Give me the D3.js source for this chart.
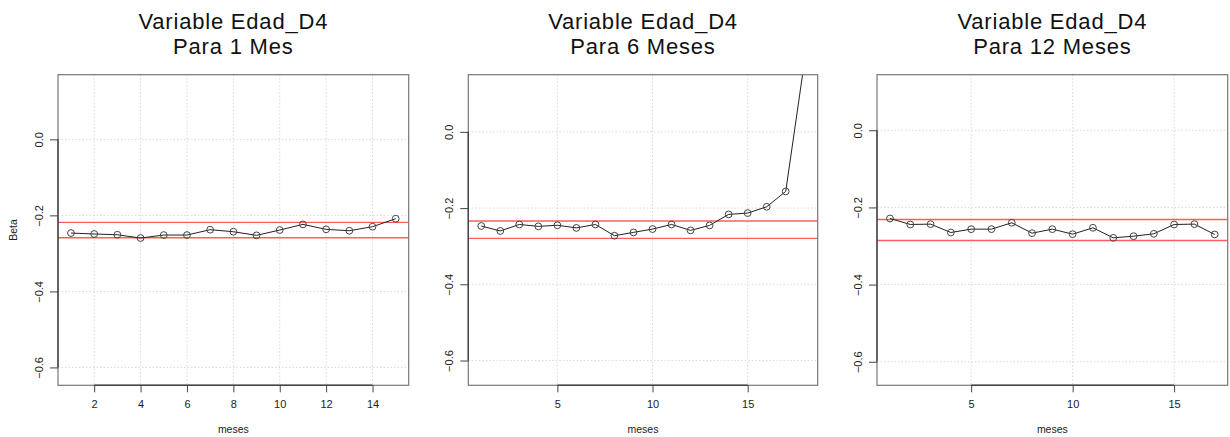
<!DOCTYPE html>
<html lang="en">
<head>
<meta charset="UTF-8">
<title>Variable Edad_D4</title>
<script src="https://d3js.org/d3.v7.min.js"></script>
<style>
  html, body { margin:0; padding:0; background:#fff; overflow:hidden; }
  svg { font-family: "Liberation Sans", Arial, sans-serif; }
  .grid line { stroke:#d9d9d9; stroke-dasharray:1.5,2; stroke-width:1; }
  .tick-lab { font-size:11px; fill:#222; }
</style>
</head>
<body>
<div id="chart"></div>
<script>
// values
const titles = ["Para 1 Mes", "Para 6 Meses", "Para 12 Meses"];
const beta1 = [-0.2465,-0.249,-0.251,-0.2596,-0.2518,-0.2518,-0.2377,-0.243,-0.2526,-0.2386,-0.2237,-0.2368,-0.2404,-0.2298,-0.2088];
const beta6 = [-0.247,-0.260,-0.243,-0.248,-0.245,-0.252,-0.243,-0.2725,-0.2638,-0.255,-0.243,-0.2585,-0.2454,-0.2166,-0.2131,-0.1965,-0.1563,0.19];
const beta12 = [-0.2286,-0.2442,-0.2433,-0.265,-0.2563,-0.2563,-0.2398,-0.2667,-0.2563,-0.2693,-0.2528,-0.2788,-0.2745,-0.2684,-0.2442,-0.2433,-0.2701];
const redLines1 = [-0.2184, -0.2588];
const redLines6 = [-0.234, -0.2795];
const redLines12 = [-0.2312, -0.2857];
const xTicks1 = [2,4,6,8,10,12,14];
const xTicks6 = [5,10,15];
const xTicks12 = [5,10,15];
const yTicks = [-0.6,-0.4,-0.2,0.0];

const W = 1230, H = 437;
const svg = d3.select("#chart").append("svg").attr("width", W).attr("height", H);

const panels = [
  {vals:beta1, red:redLines1, xt:xTicks1, yDom:[-0.647,0.17], box:[58,74.7,408.7,385.3], ylab:true},
  {vals:beta6, red:redLines6, xt:xTicks6, yDom:[-0.665,0.15], box:[468.3,74.7,817.7,385.3], ylab:false},
  {vals:beta12, red:redLines12, xt:xTicks12, yDom:[-0.661,0.144], box:[877,74.7,1227.7,385.3], ylab:false}
];

panels.forEach((p, i) => {
  const [x0, y0, x1, y1] = p.box;
  const n = p.vals.length;
  const ext = (n - 1) * 0.04;
  const x = d3.scaleLinear().domain([1 - ext, n + ext]).range([x0, x1]);
  const y = d3.scaleLinear().domain(p.yDom).range([y1, y0]);
  const g = svg.append("g");

  const clipId = "clip" + i;
  g.append("clipPath").attr("id", clipId).append("rect")
    .attr("x", x0).attr("y", y0).attr("width", x1 - x0).attr("height", y1 - y0);

  // grid
  const grid = g.append("g").attr("class", "grid");
  grid.selectAll(".gx").data(p.xt).enter().append("line")
    .attr("x1", d => x(d)).attr("x2", d => x(d)).attr("y1", y0).attr("y2", y1);
  grid.selectAll(".gy").data(yTicks).enter().append("line")
    .attr("x1", x0).attr("x2", x1).attr("y1", d => y(d)).attr("y2", d => y(d));

  // red reference lines
  g.selectAll(".red").data(p.red).enter().append("line")
    .attr("x1", x0).attr("x2", x1).attr("y1", d => y(d)).attr("y2", d => y(d))
    .attr("stroke", "#ff4d4d").attr("stroke-width", 1.4).attr("stroke-opacity", 0.9);

  // series
  const pts = p.vals.map((v, k) => [k + 1, v]);
  const plotG = g.append("g").attr("clip-path", "url(#" + clipId + ")");
  plotG.append("path").datum(pts)
    .attr("fill", "none").attr("stroke", "#222").attr("stroke-width", 1)
    .attr("d", d3.line().x(d => x(d[0])).y(d => y(d[1])));
  plotG.selectAll("circle").data(pts).enter().append("circle")
    .attr("cx", d => x(d[0])).attr("cy", d => y(d[1])).attr("r", 3.4)
    .attr("fill", "none").attr("stroke", "#444").attr("stroke-width", 1);

  // box
  g.append("rect").attr("x", x0).attr("y", y0).attr("width", x1 - x0).attr("height", y1 - y0)
    .attr("fill", "none").attr("stroke", "#777").attr("stroke-width", 1.2);

  // axes
  const xAx = g.append("g").attr("transform", "translate(0," + y1 + ")")
    .call(d3.axisBottom(x).tickValues(p.xt).tickSize(7).tickPadding(8).tickFormat(d3.format("d")));
  xAx.select(".domain").attr("d", "M" + x(p.xt[0]) + ",0H" + x(p.xt[p.xt.length - 1]))
    .attr("stroke", "#444").attr("stroke-width", 1.4);
  xAx.selectAll(".tick line").attr("stroke", "#444");
  xAx.selectAll(".tick text").attr("class", "tick-lab");
  xAx.attr("font-family", null).attr("font-size", null);

  const yAx = g.append("g").attr("transform", "translate(" + x0 + ",0)")
    .call(d3.axisLeft(y).tickValues(yTicks).tickSize(8).tickFormat(d3.format(".1f")));
  yAx.select(".domain").attr("d", "M0," + y(yTicks[0]) + "V" + y(yTicks[yTicks.length - 1]))
    .attr("stroke", "#444").attr("stroke-width", 1.4);
  yAx.selectAll(".tick line").attr("stroke", "#444");
  yAx.attr("font-family", null).attr("font-size", null);
  yAx.selectAll(".tick text").attr("class", "tick-lab")
    .attr("x", null).attr("dy", null)
    .attr("text-anchor", "middle")
    .attr("transform", "translate(-15,0) rotate(-90)");

  // x label
  g.append("text").attr("x", (x0 + x1) / 2).attr("y", 433)
    .attr("text-anchor", "middle").attr("font-size", 10.5).attr("fill", "#222").text("meses");

  if (p.ylab) {
    g.append("text").attr("transform", "translate(17," + ((y0 + y1) / 2) + ") rotate(-90)")
      .attr("text-anchor", "middle").attr("font-size", 10.5).attr("fill", "#222").text("Beta");
  }

  // title, centred on the plot region, two separate lines
  const cx = (x0 + x1) / 2;
  g.append("text").attr("x", cx).attr("y", 29).attr("text-anchor", "middle")
    .attr("font-size", 22).attr("letter-spacing", 0.8).attr("fill", "#111")
    .text("Variable Edad_D4");
  g.append("text").attr("x", cx).attr("y", 54).attr("text-anchor", "middle")
    .attr("font-size", 22).attr("letter-spacing", 0.8).attr("fill", "#111")
    .text(titles[i]);
});
</script>
</body>
</html>
